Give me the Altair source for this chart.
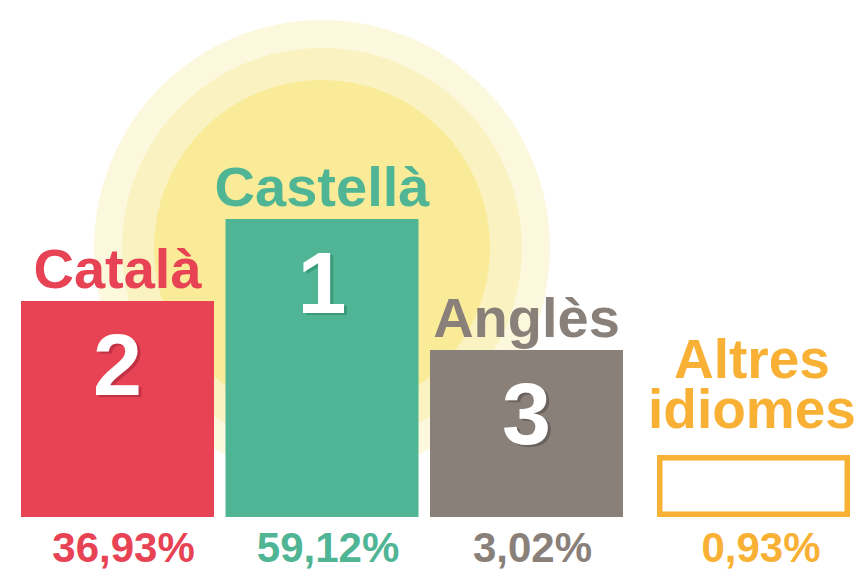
import altair as alt
import pandas as pd

# ---- data ----
categories = ["Català", "Castellà", "Anglès", "Altres idiomes"]
podium_rank = [2, 1, 3, 4]
percentages = [36.93, 59.12, 3.02, 0.93]
name_labels = ["Català", "Castellà", "Anglès", "Altres\nidiomes"]
rank_labels = ["2", "1", "3", ""]

# ---- styles ----
colors = ["#E84354", "#4FB594", "#8A807A", "#F8B134"]
shadow_colors = ["#C23245", "#3A9A79", "#6B625D", "#F8B134"]
sun_colors = ["#FCF8DD", "#FAF2C0", "#F9EB97"]
sun_sizes = [228, 200, 168]  # radii in px

df = pd.DataFrame({
    "cat": categories,
    "rank": podium_rank,
    "pct": percentages,
    "name": name_labels,
    "rlabel": rank_labels,
})

base = alt.Chart(df).transform_calculate(
    pct_label="replace(format(datum.pct, '.2f'), '.', ',') + '%'"
)

x_enc = alt.X(
    "cat:N",
    sort=categories,
    scale=alt.Scale(domain=categories, range=[13, 819.5], paddingInner=0.0562,
                    paddingOuter=0, round=False),
    axis=None,
)
y_enc = alt.Y(
    "rank:Q",
    scale=alt.Scale(domain=[1, 2, 3, 4], range=[211, 293, 342, 449.75], zero=False, nice=False),
    axis=None,
)
color_enc = alt.Color("cat:N", scale=alt.Scale(domain=categories, range=colors), legend=None)

podium = base.transform_filter("datum.rank < 4")
others = base.transform_filter("datum.rank == 4")

# sun rings behind the winner
sun_layers = []
for col, r in zip(sun_colors, sun_sizes):
    sun_layers.append(
        base.transform_filter("datum.rank == 1").mark_point(
            shape="circle", filled=True, opacity=1, strokeWidth=0, yOffset=29
        ).encode(x=x_enc, y=y_enc, size=alt.value((2 * r) ** 2), color=alt.value(col))
    )

bars = podium.mark_rect().encode(
    x=x_enc, y=y_enc, y2=alt.value(509), color=color_enc
)

other_box = others.mark_rect(
    width=187.5, xOffset=22.5, y2Offset=-2.75, fill="white", strokeWidth=5.5
).encode(x=x_enc, y=y_enc, y2=alt.value(509), stroke=color_enc)

names = podium.mark_text(
    font="Liberation Sans", fontWeight="bold", fontSize=56, baseline="alphabetic", dy=-13
).encode(x=x_enc, y=y_enc, text="name:N", color=color_enc)

other_name = others.mark_text(
    font="Liberation Sans", fontWeight="bold", fontSize=55, baseline="alphabetic",
    dy=-79.75, xOffset=21, lineBreak="\n", lineHeight=50
).encode(x=x_enc, y=y_enc, text="name:N", color=color_enc)

rank_shadow = podium.mark_text(
    font="Liberation Sans", fontWeight="bold", fontSize=88, baseline="alphabetic", dy=96, dx=3
).encode(
    x=x_enc, y=y_enc, text="rlabel:N",
    fill=alt.Fill("cat:N", scale=alt.Scale(domain=categories, range=shadow_colors), legend=None),
)

rank_text = podium.mark_text(
    font="Liberation Sans", fontWeight="bold", fontSize=88, baseline="alphabetic", dy=94, color="white"
).encode(x=x_enc, y=y_enc, text="rlabel:N")

pct_text = podium.mark_text(
    font="Liberation Sans", fontWeight="bold", fontSize=42, baseline="alphabetic", dx=6
).encode(x=x_enc, y=alt.value(554), text="pct_label:N", color=color_enc)

other_pct = others.mark_text(
    font="Liberation Sans", fontWeight="bold", fontSize=42, baseline="alphabetic", xOffset=30
).encode(x=x_enc, y=alt.value(554), text="pct_label:N", color=color_enc)

chart = alt.layer(
    *sun_layers, bars, other_box, names, other_name, rank_shadow, rank_text, pct_text, other_pct
).properties(
    width=849, height=563, padding=0, autosize=alt.AutoSizeParams(type="none"),
    background="white",
).configure_view(stroke=None)

chart.save("out.html", embed_options={"renderer": "svg", "actions": False})
